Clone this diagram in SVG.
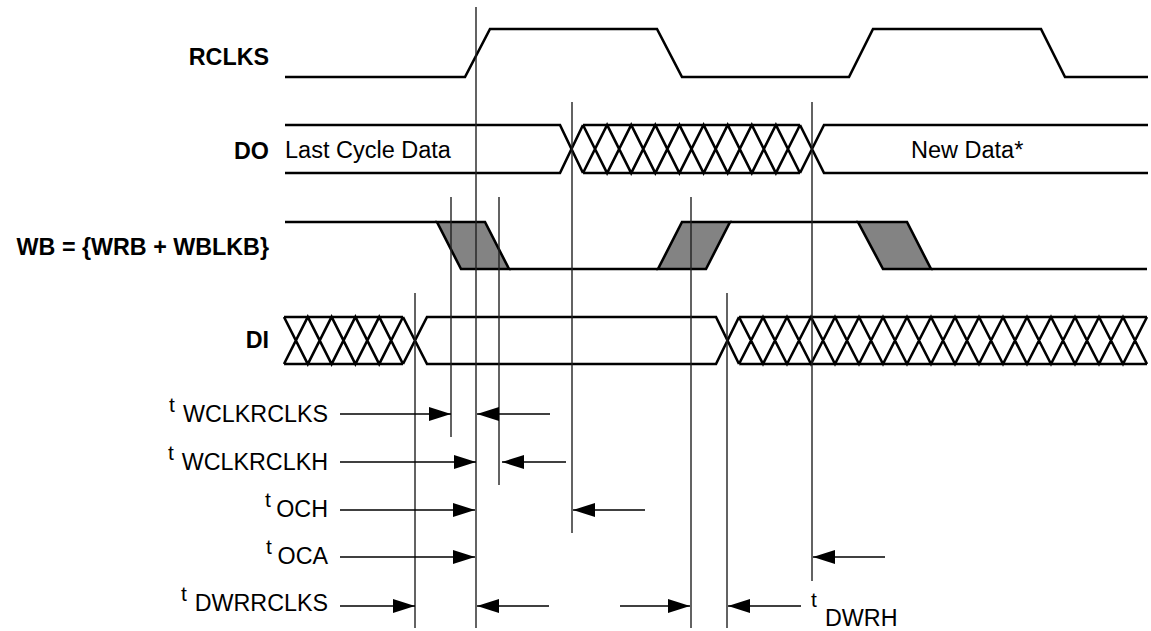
<svg xmlns="http://www.w3.org/2000/svg" width="1151" height="631" viewBox="0 0 1151 631">
<style>
.sig{fill:none;stroke:#000;stroke-width:2.6;stroke-linejoin:miter}
.shade{fill:#838383;stroke:#000;stroke-width:2.6;stroke-linejoin:miter}
.vl{stroke:#222;stroke-width:1.4;fill:none}
.ar{stroke:#000;stroke-width:1.5;fill:none;marker-end:url(#ah)}
.lbl{font-family:"Liberation Sans",Arial,sans-serif;font-weight:bold;font-size:23.3px;fill:#000}
.txt{font-family:"Liberation Sans",Arial,sans-serif;font-size:23.5px;fill:#000}
.tt{font-family:"Liberation Sans",Arial,sans-serif;font-size:21px;fill:#000}
.tm{font-family:"Liberation Sans",Arial,sans-serif;font-size:23.3px;fill:#000}
</style>
<defs>
<marker id="ah" viewBox="0 0 22 14" refX="22" refY="7" markerWidth="22" markerHeight="14" markerUnits="userSpaceOnUse" orient="auto">
<path d="M0,0 L22,7 L0,14 Z" fill="#000"/>
</marker>
</defs>
<rect width="1151" height="631" fill="#fff"/>

<g id="rclks">
<text class="lbl" x="269" y="65" text-anchor="end">RCLKS</text>
<path class="sig" d="M285,77 H465 L490,29 H657 L682,77 H849 L873,29 H1041 L1065,77 H1148"/>
</g>

<g id="do">
<text class="lbl" x="269" y="159" text-anchor="end">DO</text>
<path class="sig" d="M285,125 H560 L583,173 M285,173 H560 L583,125"/>
<path class="sig" d="M583,125 H800 M583,173 H800 M583,125 L607.1,173 L631.2,125 L655.3,173 L679.4,125 L703.6,173 L727.7,125 L751.8,173 L775.9,125 L800,173 M583,173 L607.1,125 L631.2,173 L655.3,125 L679.4,173 L703.6,125 L727.7,173 L751.8,125 L775.9,173 L800,125"/>
<path class="sig" d="M800,125 L824,173 H1148 M800,173 L824,125 H1148"/>
<text class="txt" x="285" y="158">Last Cycle Data</text>
<text class="txt" x="911" y="158">New Data*</text>
</g>

<g id="wb">
<text class="lbl" x="269" y="255" text-anchor="end">WB = {WRB + WBLKB}</text>
<path class="sig" d="M285,222 H437 M509,269 H658 M730,222 H858 M931,269 H1147"/>
<polygon class="shade" points="437,222 485,222 509,269 461,269"/>
<polygon class="shade" points="658,269 706,269 730,222 682,222"/>
<polygon class="shade" points="858,222 907,222 931,269 883,269"/>
</g>

<g id="di">
<text class="lbl" x="269" y="348" text-anchor="end">DI</text>
<path class="sig" d="M284,317 H403 M284,364 H403 M284,317 L307.8,364 L331.6,317 L355.4,364 L379.2,317 L403,364 M284,364 L307.8,317 L331.6,364 L355.4,317 L379.2,364 L403,317"/>
<path class="sig" d="M403,317 L427,364 H716 L739,317 M403,364 L427,317 H716 L739,364"/>
<path class="sig" d="M739,317 H1147 M739,364 H1147 M739,317 L763,364 L787,317 L811,364 L835,317 L859,364 L883,317 L907,364 L931,317 L955,364 L979,317 L1003,364 L1027,317 L1051,364 L1075,317 L1099,364 L1123,317 L1147,364 M739,364 L763,317 L787,364 L811,317 L835,364 L859,317 L883,364 L907,317 L931,364 L955,317 L979,364 L1003,317 L1027,364 L1051,317 L1075,364 L1099,317 L1123,364 L1147,317"/>
</g>

<g id="connectors">
<path class="vl" d="M476,7 V628 M572,102 V533 M812,102 V581 M451,197 V437 M499,197 V485 M691,197 V628 M415,293 V628 M727,293 V628"/>
<path class="ar" d="M340,414 H451"/>
<path class="ar" d="M550,414 H477"/>
<path class="ar" d="M340,462 H476"/>
<path class="ar" d="M566,462 H502"/>
<path class="ar" d="M340,510 H475"/>
<path class="ar" d="M645,510 H573"/>
<path class="ar" d="M340,557 H475"/>
<path class="ar" d="M885,557 H813"/>
<path class="ar" d="M340,606 H415"/>
<path class="ar" d="M549,606 H477"/>
<path class="ar" d="M620,606 H690"/>
<path class="ar" d="M801,606 H728"/>
</g>

<g id="timing-labels">
<text><tspan class="tt" x="169" y="412">t</tspan><tspan class="tm" x="328" y="422" text-anchor="end">WCLKRCLKS</tspan></text>
<text><tspan class="tt" x="168" y="460">t</tspan><tspan class="tm" x="328" y="470" text-anchor="end">WCLKRCLKH</tspan></text>
<text><tspan class="tt" x="265" y="507">t</tspan><tspan class="tm" x="328" y="517" text-anchor="end">OCH</tspan></text>
<text><tspan class="tt" x="266" y="554">t</tspan><tspan class="tm" x="328" y="564" text-anchor="end">OCA</tspan></text>
<text><tspan class="tt" x="181" y="601">t</tspan><tspan class="tm" x="328" y="611" text-anchor="end">DWRRCLKS</tspan></text>
<text><tspan class="tt" x="811" y="607">t</tspan><tspan class="tm" x="825" y="626">DWRH</tspan></text>
</g>
</svg>
